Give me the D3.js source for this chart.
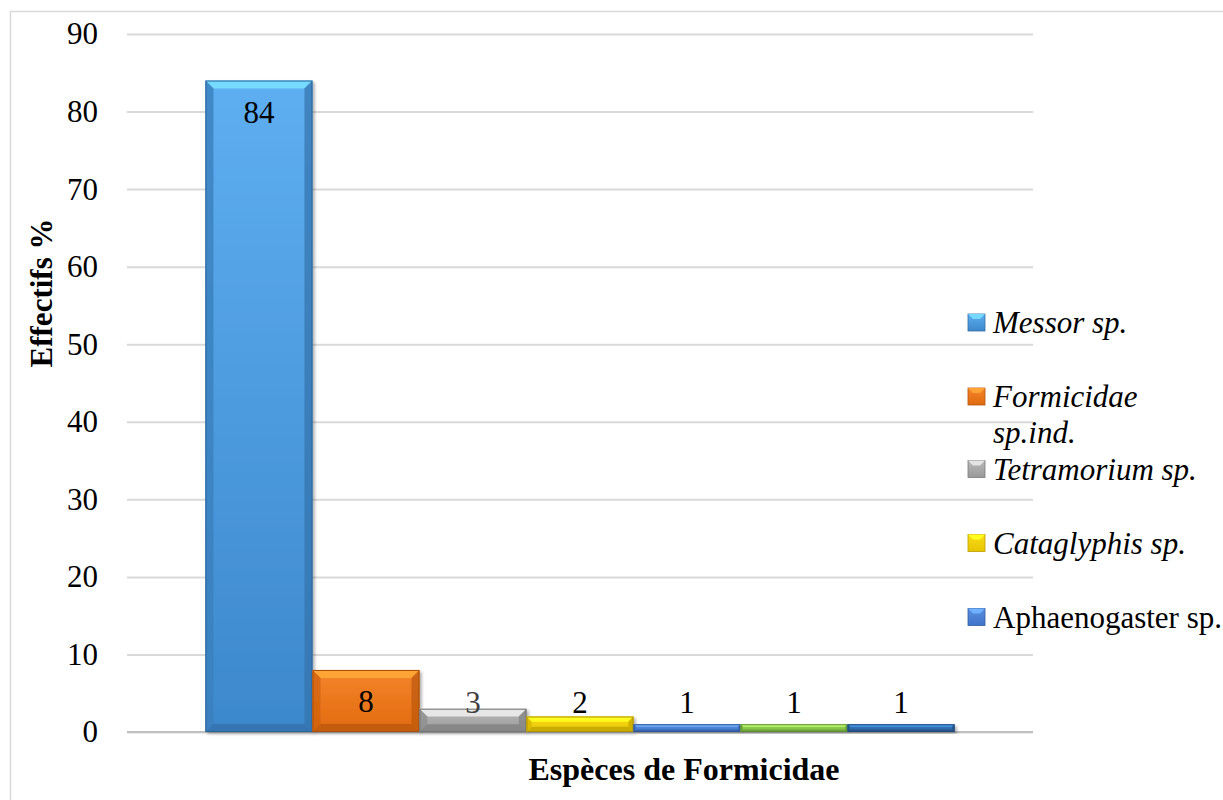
<!DOCTYPE html>
<html>
<head>
<meta charset="utf-8">
<script src="https://cdn.jsdelivr.net/npm/d3@7/dist/d3.min.js"></script>
<style>
  html, body { margin: 0; padding: 0; background: #fff; }
  svg { display: block; font-family: "Liberation Serif", "Times New Roman", serif; }
</style>
</head>
<body>
<svg id="chart" width="1223" height="800"></svg>
<script>
// Relative abundance (%) of Formicidae species
const speciesIndex = [0, 1, 2, 3, 4, 5, 6];
const values = [84, 8, 3, 2, 1, 1, 1];
const legendLabels = ["Messor sp.", "Formicidae\nsp.ind.", "Tetramorium sp.", "Cataglyphis sp.", "Aphaenogaster sp."];
const yTicks = [0, 10, 20, 30, 40, 50, 60, 70, 80, 90];
const yTitle = "Effectifs %";
const xTitle = "Espèces de Formicidae";

// face colours: [light top, dark bottom]
const palette = [
  ["#5eaef2", "#3d88cc"],
  ["#f5842a", "#e06a10"],
  ["#b8b8b8", "#9a9a9a"],
  ["#f8dc1a", "#e8c400"],
  ["#5a8ee0", "#3f74c8"],
  ["#98d45a", "#7cbc3e"],
  ["#3a78bc", "#2a62a0"]
];

const svg = d3.select("#chart");
const W = 1223, H = 800;
const plot = { left: 127, right: 1033, top: 34, bottom: 732 };
const fs = "31px";

// outer frame
svg.append("rect")
  .attr("x", 10.5).attr("y", 11.5)
  .attr("width", W + 40).attr("height", H + 40)
  .attr("fill", "none").attr("stroke", "#d9d9d9").attr("stroke-width", 1.5);

const x = d3.scaleBand()
  .domain(speciesIndex)
  .range([plot.left, plot.right])
  .paddingInner(0)
  .paddingOuter(0.733);

const y = d3.scaleLinear()
  .domain([0, 90])
  .range([plot.bottom, plot.top]);

const defs = svg.append("defs");
palette.forEach((c, i) => {
  const g = defs.append("linearGradient")
    .attr("id", "face" + i).attr("x1", 0).attr("y1", 0).attr("x2", 0).attr("y2", 1);
  g.append("stop").attr("offset", "0%").attr("stop-color", c[0]);
  g.append("stop").attr("offset", "100%").attr("stop-color", c[1]);
});
const shadow = defs.append("filter").attr("id", "shadow")
  .attr("x", "-10%").attr("y", "-10%").attr("width", "130%").attr("height", "130%");
shadow.append("feDropShadow")
  .attr("dx", 2).attr("dy", 2).attr("stdDeviation", 1.5)
  .attr("flood-color", "#000").attr("flood-opacity", 0.3);

// gridlines
const yAxis = d3.axisLeft(y).tickValues(yTicks).tickSize(-(plot.right - plot.left)).tickPadding(29);
const gy = svg.append("g").attr("transform", `translate(${plot.left},0)`).call(yAxis);
gy.select(".domain").remove();
gy.selectAll(".tick line").attr("stroke", "#d9d9d9").attr("stroke-width", 2);
gy.selectAll(".tick text")
  .attr("fill", "#000")
  .style("font-size", fs)
  .style("font-family", "'Liberation Serif', serif");

// baseline axis
svg.append("line")
  .attr("x1", plot.left).attr("x2", plot.right)
  .attr("y1", y(0)).attr("y2", y(0))
  .attr("stroke", "#bfbfbf").attr("stroke-width", 2);

// bars with bevelled edges
const bars = svg.append("g");
values.forEach((v, i) => {
  const x0 = x(i), x1 = x(i) + x.bandwidth();
  const y0 = y(v), y1 = y(0);
  const b = Math.min(8, (y1 - y0) / 3);
  const c = palette[i];
  const g = bars.append("g").attr("filter", "url(#shadow)");
  g.append("rect")
    .attr("x", x0).attr("y", y0).attr("width", x1 - x0).attr("height", y1 - y0)
    .attr("fill", `url(#face${i})`);
  const lighter = d3.color(c[0]).brighter(0.7);
  const darker = d3.color(c[1]).darker(0.5);
  const poly = (pts, fill, op) => g.append("polygon")
    .attr("points", pts.map(p => p.join(",")).join(" "))
    .attr("fill", fill).attr("opacity", op);
  poly([[x0, y0], [x1, y0], [x1 - b, y0 + b], [x0 + b, y0 + b]], lighter, 0.9);
  poly([[x0, y0], [x0 + b, y0 + b], [x0 + b, y1 - b], [x0, y1]], d3.color(c[1]).darker(0.2), 0.8);
  poly([[x1, y0], [x1, y1], [x1 - b, y1 - b], [x1 - b, y0 + b]], darker, 0.7);
  poly([[x0, y1], [x1, y1], [x1 - b, y1 - b], [x0 + b, y1 - b]], darker, 0.8);
  g.append("rect")
    .attr("x", x0 + 0.5).attr("y", y0 + 0.5).attr("width", x1 - x0 - 1).attr("height", y1 - y0 - 1)
    .attr("fill", "none").attr("stroke", d3.color(c[1]).darker(0.8)).attr("stroke-width", 1);
});

// value labels: inside the top of the bar, kept above the axis for short bars
svg.append("g").selectAll("text").data(values).join("text")
  .attr("x", (d, i) => x(i) + x.bandwidth() / 2)
  .attr("y", d => Math.min(y(d) + 42, y(0) - 19))
  .attr("text-anchor", "middle")
  .attr("fill", (d, i) => i === 2 ? "#404040" : "#000")
  .style("font-size", fs)
  .text(d => d);

// axis titles
svg.append("text")
  .attr("transform", `translate(52,${(plot.top + plot.bottom) / 2 - 90}) rotate(-90)`)
  .attr("text-anchor", "middle")
  .style("font-size", "31px").style("font-weight", "bold")
  .text(yTitle);

svg.append("text")
  .attr("x", 684).attr("y", 780)
  .attr("text-anchor", "middle")
  .style("font-size", "32px").style("font-weight", "bold")
  .text(xTitle);

// legend
const legend = svg.append("g");
const slot = 74;
legendLabels.forEach((lab, i) => {
  const cy = 322 + i * slot - (i >= 2 ? 1.5 : 0);
  const c = palette[i];
  const mg = legend.append("g");
  mg.append("rect").attr("x", 968).attr("y", cy - 8).attr("width", 17).attr("height", 17)
    .attr("fill", `url(#face${i})`).attr("stroke", d3.color(c[1]).darker(0.6)).attr("stroke-width", 0.8);
  mg.append("polygon")
    .attr("points", `968,${cy - 8} 985,${cy - 8} 980,${cy - 3} 973,${cy - 3}`)
    .attr("fill", d3.color(c[0]).brighter(0.6));
  const lines = lab.split("\n");
  const t = legend.append("text")
    .attr("x", 993).attr("y", cy + 11)
    .style("font-size", fs)
    .style("font-style", i < 4 ? "italic" : "normal");
  lines.forEach((ln, k) => {
    t.append("tspan").attr("x", 993).attr("dy", k === 0 ? 0 : 36).text(ln);
  });
});
</script>
</body>
</html>
